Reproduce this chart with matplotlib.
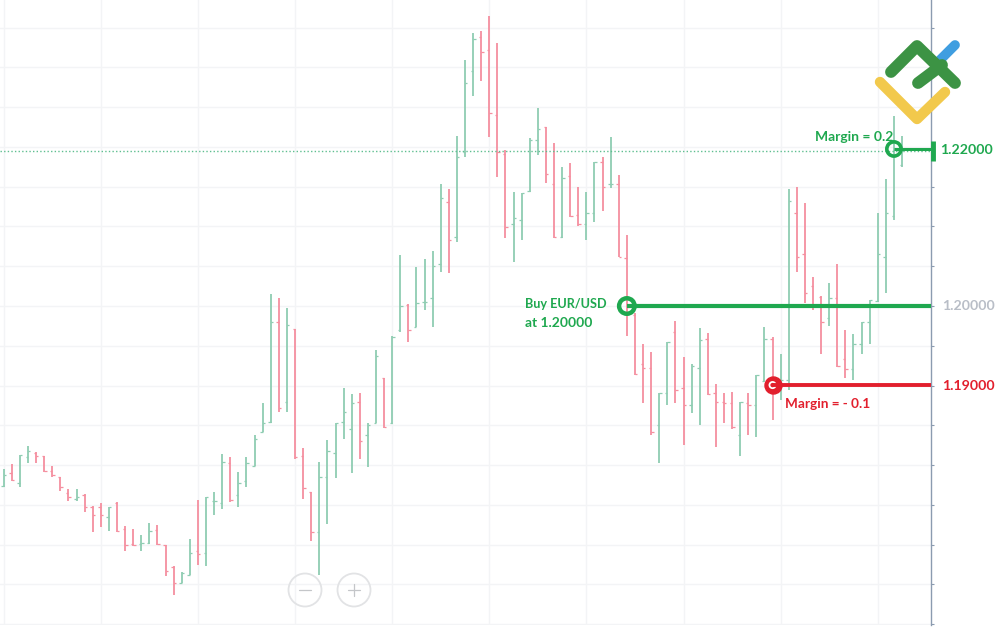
import matplotlib
matplotlib.use("Agg")
import matplotlib.pyplot as plt
from matplotlib.lines import Line2D
from matplotlib.patches import Circle
from matplotlib.transforms import Affine2D

# Bar chart data (EUR/USD, one entry per bar)
high = [1.17962,1.18025,1.18138,1.18250,1.18175,1.18125,1.18000,1.17862,1.17712,1.17712,
        1.17650,1.17500,1.17538,1.17488,1.17550,1.17250,1.17212,1.17138,1.17288,1.17262,
        1.17012,1.16750,1.16675,1.17088,1.17575,1.17612,1.17675,1.18150,1.18112,1.17925,
        1.18112,1.18388,1.18788,1.20150,1.20100,1.19975,1.19712,1.18225,1.17675,1.18050,
        1.18325,1.18538,1.18975,1.18900,1.18912,1.18538,1.19450,1.19100,1.19625,1.20638,
        1.20025,1.20488,1.20588,1.20688,1.21525,1.21462,1.22125,1.23075,1.23412,1.23438,
        1.23625,1.23288,1.21950,1.21425,1.21412,1.22100,1.22475,1.22238,1.22038,1.21738,
        1.21788,1.21488,1.21425,1.21800,1.21862,1.22112,1.21638,1.20888,1.19912,1.19525,
        1.19425,1.18912,1.19550,1.19812,1.19362,1.19275,1.19725,1.19662,1.19025,1.18912,
        1.18925,1.18800,1.18912,1.19138,1.19738,1.19612,1.19400,1.21462,1.21488,1.21288,
        1.20362,1.20125,1.20288,1.20525,1.19700,1.19650,1.19800,1.20075,1.21162,1.21588,
        1.22375,1.22125]
low = [1.17738,1.17812,1.17738,1.18038,1.18038,1.17925,1.17862,1.17688,1.17562,1.17562,
       1.17425,1.17175,1.17238,1.17188,1.17175,1.16938,1.17000,1.16938,1.17025,1.17012,
       1.16625,1.16388,1.16538,1.16638,1.16762,1.16750,1.17388,1.17462,1.17550,1.17488,
       1.17738,1.18000,1.18425,1.18538,1.18675,1.18675,1.18088,1.17588,1.17062,1.16638,
       1.17275,1.17850,1.18338,1.17912,1.18088,1.17988,1.18538,1.18475,1.18525,1.19675,
       1.19550,1.19738,1.19950,1.19738,1.20425,1.20412,1.20800,1.21862,1.22625,1.22812,
       1.22112,1.21612,1.20850,1.20550,1.20825,1.21425,1.21888,1.21538,1.20850,1.20850,
       1.21112,1.21000,1.20825,1.21050,1.21188,1.21475,1.20612,1.19625,1.19138,1.18788,
       1.18388,1.18038,1.18762,1.18788,1.18262,1.18662,1.18512,1.18888,1.18238,1.18538,
       1.18462,1.18125,1.18388,1.18362,1.19050,1.18575,1.18825,1.18950,1.20425,1.20038,
       1.19950,1.19400,1.19750,1.19238,1.19100,1.19075,1.19400,1.19525,1.20050,1.20162,
       1.21075,1.21738]
open_ = [1.17750,1.17912,1.17788,1.18112,1.18162,1.18125,1.17938,1.17862,1.17662,1.17588,
         1.17638,1.17488,1.17488,1.17362,1.17538,1.17212,1.17025,1.17025,1.17038,1.17200,
         1.17012,1.16738,1.16538,1.16638,1.16938,1.16912,1.17562,1.17538,1.18038,1.17638,
         1.17812,1.18000,1.18425,1.18550,1.19800,1.18800,1.19712,1.18125,1.17675,1.17175,
         1.17862,1.18162,1.18550,1.18462,1.18800,1.18388,1.18538,1.19100,1.18538,1.19700,
         1.20012,1.19738,1.20050,1.20100,1.20525,1.21300,1.20862,1.21925,1.22938,1.23362,
         1.23200,1.22388,1.21900,1.21025,1.21075,1.21438,1.22075,1.22238,1.21525,1.20862,
         1.21625,1.21138,1.21025,1.21162,1.21800,1.21525,1.21525,1.20600,1.19888,1.19275,
         1.19225,1.18512,1.18912,1.19675,1.18975,1.18762,1.19225,1.19588,1.18912,1.18800,
         1.18788,1.18388,1.18788,1.18762,1.19062,1.19588,1.19038,1.19075,1.21162,1.20650,
         1.20250,1.20112,1.19850,1.20100,1.19338,1.19212,1.19525,1.19800,1.20062,1.20612,
         1.21125,1.21762]
close = [1.17888,1.17825,1.18138,1.18188,1.18125,1.17938,1.17888,1.17738,1.17612,1.17612,
         1.17488,1.17388,1.17388,1.17488,1.17188,1.17012,1.17012,1.17038,1.17188,1.17025,
         1.16688,1.16538,1.16662,1.16912,1.16900,1.17612,1.17562,1.18050,1.17575,1.17788,
         1.18038,1.18338,1.18538,1.19800,1.18725,1.19762,1.18112,1.17725,1.17175,1.17862,
         1.18188,1.18538,1.18675,1.18788,1.18312,1.18512,1.19375,1.18488,1.19612,1.20000,
         1.19700,1.20038,1.20050,1.20500,1.21350,1.20825,1.21862,1.22788,1.23338,1.23175,
         1.22412,1.21925,1.20988,1.21100,1.21412,1.22075,1.22212,1.21650,1.20862,1.21600,
         1.21125,1.21025,1.21162,1.21800,1.21488,1.21525,1.20612,1.19988,1.19150,1.19225,
         1.18425,1.18912,1.19550,1.18950,1.18762,1.19250,1.19575,1.18900,1.18800,1.18788,
         1.18488,1.18800,1.18762,1.19138,1.19588,1.19012,1.19075,1.21312,1.20612,1.20162,
         1.20000,1.19800,1.20100,1.19250,1.19212,1.19525,1.19800,1.20075,1.20650,1.21162,
         1.21950,1.21950]

price_grid = [1.16024,1.16521,1.17018,1.17515,1.18012,1.18509,1.19006,1.19503,
              1.20000,1.20497,1.20994,1.21491,1.21988,1.22485,1.22982,1.23479]
bar_grid = [0,12,24,36,48,60,72,84,96,108]

entry_price = 1.20000
entry_bar = 77
stop_price = 1.19012
stop_bar = 95
target_price = 1.21963
target_bar = 110
last_price = 1.21938

GREEN_BAR = "#8fcdb2"
RED_BAR = "#f58f9f"
GRID = "#f3f4f6"
AXIS = "#8b9bb0"
LEVEL_GREEN = "#1fa84f"
LEVEL_RED = "#e21f2d"
TXT = ["Lato", "DejaVu Sans"]

W, H = 1000, 629
fig = plt.figure(figsize=(W/100, H/100), dpi=100, facecolor="white")
ax = fig.add_axes([0, 4/H, 931/W, 625/H])
ax.set_facecolor("white")

ax.set_xlim(-0.457, 114.58)
ax.set_ylim(1.16013, 1.23825)
ax.set_yticks(price_grid)
ax.set_xticks(bar_grid)
ax.grid(True, color=GRID, lw=1.0)
ax.set_axisbelow(True)
ax.tick_params(axis="x", length=0, labelbottom=False)
ax.tick_params(axis="y", left=False, right=True, length=2.5, width=0.8, color=AXIS,
               labelleft=False, labelright=False)
for s in ("left", "top", "bottom"):
    ax.spines[s].set_visible(False)
ax.spines["right"].set_color(AXIS)
ax.spines["right"].set_linewidth(1.0)

idx = list(range(len(high)))
colors = [GREEN_BAR if c >= o else RED_BAR for o, c in zip(open_, close)]
ax.vlines(idx, low, high, colors=colors, lw=1.3, zorder=2)
ax.hlines(open_, [i - 0.3 for i in idx], idx, colors=colors, lw=0.9, zorder=2)
ax.hlines(close, idx, [i + 0.3 for i in idx], colors=colors, lw=0.9, zorder=2)

# last-price dotted line
ax.axhline(last_price, color="#5fbf90", lw=1.0, ls=(0, (1, 1.6)), zorder=3)

xmax = ax.get_xlim()[1]
# entry level
ax.plot([entry_bar, xmax], [entry_price]*2, color=LEVEL_GREEN, lw=3.0, zorder=5, solid_capstyle="butt")
ax.scatter([entry_bar], [entry_price], s=125, facecolors="none", edgecolors=LEVEL_GREEN, linewidths=3.2, zorder=5)
# stop level
ax.scatter([stop_bar], [stop_price], s=150, color=LEVEL_RED, zorder=5)
ax.scatter([stop_bar], [stop_price], s=20, facecolors="none", edgecolors="white", linewidths=1.3, zorder=6)
ax.plot([stop_bar, xmax], [stop_price]*2, color=LEVEL_RED, lw=2.8, zorder=7, solid_capstyle="butt")
# target level
ax.plot([target_bar, xmax], [target_price]*2, color=LEVEL_GREEN, lw=2.2, zorder=5, solid_capstyle="butt")
ax.scatter([target_bar], [target_price], s=105, facecolors="none", edgecolors=LEVEL_GREEN, linewidths=2.6, zorder=5)
ax.plot([xmax + 0.19, xmax + 0.19], [target_price - 0.0015, target_price + 0.001], color=LEVEL_GREEN, lw=3.5,
        zorder=6, solid_capstyle="butt", clip_on=False)

# pixel-space overlay (top-left origin)
P = Affine2D().scale(1, -1).translate(0, H)

def stroke(pts, color, lw):
    xs, ys = zip(*pts)
    fig.add_artist(Line2D(xs, ys, transform=P, color=color, lw=lw, solid_capstyle="round",
                          solid_joinstyle="round", zorder=10))

stroke([(940, 60), (955, 45)], "#3f9ee0", 7)
stroke([(880, 82), (917, 119), (945, 92)], "#f2c94c", 7.5)
stroke([(891, 72), (917, 46), (955, 83)], "#3c9344", 8.5)
stroke([(918, 83), (942, 65)], "#3c9344", 8.5)

for cx, glyph in ((305, "minus"), (354, "plus")):
    fig.add_artist(Circle((cx, 590), 16.5, transform=P, fill=False, ec="#e2e3e5", lw=1.3, zorder=10))
    stroke([(cx - 6, 590), (cx + 6, 590)], "#c4c6c9", 0.9)
    if glyph == "plus":
        stroke([(cx, 584), (cx, 596)], "#c4c6c9", 0.9)

def label(x, y, s, color, size=10.5, ha="left"):
    fig.text(x, y, s, transform=P, color=color, fontsize=size, fontweight="bold",
             family=TXT, ha=ha, va="center", zorder=11)

label(940, 150, "1.22000", LEVEL_GREEN, 10.2)
label(942, 306, "1.20000", "#b9bec7", 10.2)
label(942, 386, "1.19000", LEVEL_RED, 10.2)
label(815, 137, "Margin = 0.2", LEVEL_GREEN, 10)
label(525, 304, "Buy EUR/USD", LEVEL_GREEN, 9.1)
label(525, 323, "at 1.20000", LEVEL_GREEN, 10)
label(785, 404, "Margin = - 0.1", LEVEL_RED, 9.8)

fig.savefig("out.png", dpi=100, facecolor="white")
